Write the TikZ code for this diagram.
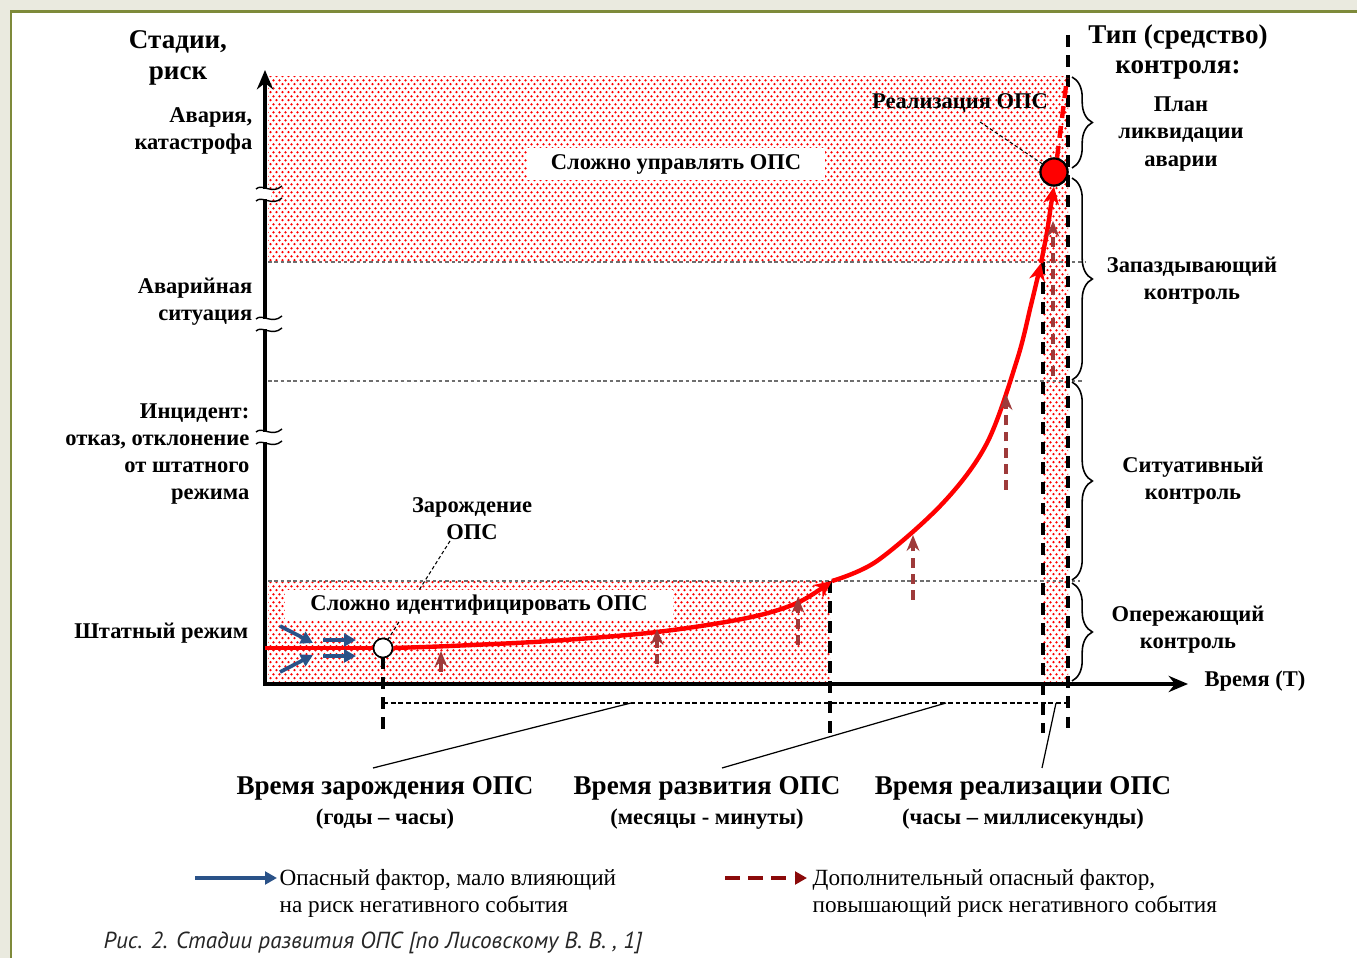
\documentclass[tikz,border=0pt]{standalone}
\usepackage{fontspec}
\setmainfont{Liberation Serif}
\newfontfamily\capfont{PT Sans}
\usetikzlibrary{arrows.meta,decorations.pathreplacing,calc,patterns}
\definecolor{bgbeige}{HTML}{EAEADF}
\definecolor{olivec}{HTML}{7E8A3A}
\definecolor{fblue}{HTML}{2A5288}
\definecolor{fred}{HTML}{9E3A3A}
\definecolor{lred}{HTML}{8B0A0A}
\definecolor{gline}{HTML}{6E6E6E}
\pgfdeclarepatternformonly{rdots}{\pgfqpoint{0pt}{0pt}}{\pgfqpoint{1.7pt}{2.2pt}}{\pgfqpoint{1.7pt}{2.2pt}}{%
  \pgfpathcircle{\pgfqpoint{0.425pt}{0.55pt}}{0.38pt}%
  \pgfpathcircle{\pgfqpoint{1.275pt}{1.65pt}}{0.38pt}%
  \pgfusepath{fill}}
\newcommand\fbig{\fontsize{7.7}{8.8}\selectfont\bfseries}
\newcommand\fmid{\fontsize{6.4}{7.7}\selectfont\bfseries}
\newcommand\fbot{\fontsize{7.7}{8.3}\selectfont\bfseries}
\newcommand\fleg{\fontsize{6.6}{7.7}\selectfont}
\newcommand\fcap{\capfont\itshape\fontsize{6.6}{7}\selectfont}
\tikzset{
  lab/.style={font=\fmid, align=center, inner sep=0pt},
  labr/.style={font=\fmid, align=right, inner sep=0pt, anchor=east},
  big/.style={font=\fbig, align=center, inner sep=0pt},
  bot/.style={font=\fbot, align=center, inner sep=0pt},
  legt/.style={font=\fleg, align=left, inner sep=0pt, anchor=west},
  patt/.style={pattern=rdots, pattern color=red},
  gdash/.style={draw=gline, line width=0.35pt, dash pattern=on 1pt off 0.8pt},
  vdash/.style={draw=black, line width=0.9pt, dash pattern=on 3.4pt off 2.3pt},
  hdash/.style={draw=black, line width=0.35pt, dash pattern=on 1.4pt off 0.8pt},
  leader/.style={draw=black, line width=0.35pt},
  dleader/.style={draw=black, line width=0.3pt, dash pattern=on 1pt off 0.7pt},
  curve/.style={draw=red, line width=1.25pt, -{Stealth[length=5pt,width=4.5pt]}},
  farrow/.style={draw=fred, line width=1.1pt, dash pattern=on 2.8pt off 1.8pt, -{Stealth[length=4.5pt,width=3.6pt]}},
  larrow/.style={draw=lred, line width=1.15pt, dash pattern=on 4.2pt off 2.4pt, -{Triangle[length=3.4pt,width=3.6pt]}},
  barrow/.style={draw=fblue, line width=1.05pt, -{Triangle[length=3.4pt,width=3.6pt]}},
  axis/.style={draw=black, line width=1.2pt, -{Stealth[length=5.5pt,width=4.6pt]}},
  brc/.style={decorate, decoration={brace, amplitude=5.8pt}, draw=black, line width=0.45pt},
  wave/.style={draw=black, line width=0.4pt},
  lbox/.style={fill=white, font=\fmid, inner sep=0pt},
}
\begin{document}
\begin{tikzpicture}[x=0.01cm, y=-0.01cm]
\useasboundingbox (0,0) rectangle (1357,958);
% frame
\fill[bgbeige] (0,0) rectangle (1357,958);
\fill[white] (11,12) rectangle (1357,958);
\draw[olivec, line width=0.85pt] (11,958) -- (11,12) -- (1357,12);
% shaded regions
\fill[patt] (268,77) rectangle (1068,262);
\fill[patt] (268,581) rectangle (830,684);
\fill[patt] (1043,262) rectangle (1068,684);
% level lines
\draw[gdash] (268,262) -- (1086,262);
\draw[gdash] (268,381) -- (1084,381);
\draw[gdash] (268,581) -- (1080,581);
% time marks
\coordinate (m0a) at (383,657); \coordinate (m0b) at (383,732);
\coordinate (m1a) at (830,581); \coordinate (m1b) at (830,733);
\coordinate (m2a) at (1043,262); \coordinate (m2b) at (1043,733);
\coordinate (m3a) at (1068,35); \coordinate (m3b) at (1068,733);
\draw[vdash] (m0a) -- (m0b);
\draw[vdash] (m1a) -- (m1b);
\draw[vdash] (m2a) -- (m2b);
\draw[vdash] (m3a) -- (m3b);
\coordinate (h0) at (383,703); \coordinate (h1) at (1068,703);
\draw[hdash] (h0) -- (h1);
% axes
\coordinate (o) at (265,684);
\coordinate (ytop) at (265,70);
\coordinate (xend) at (1188,684);
\draw[axis] (265,686) -- (ytop);
\draw[axis] (263,684) -- (xend);
% axis breaks
\foreach \c in {194,324,437}{
  \fill[white] (259,\c-5) rectangle (271,\c+5);
  \draw[wave] (256,\c-5) .. controls (262,\c-11) and (272,\c+1) .. (282,\c-8);
  \draw[wave] (256,\c+7) .. controls (262,\c+1) and (272,\c+13) .. (282,\c+4);
}
% bottom labels
\node[bot] (t1) at (385,803) {Время зарождения ОПС\\{\fmid (годы – часы)}};
\node[bot] (t2) at (707,803) {Время развития ОПС\\{\fmid (месяцы - минуты)}};
\node[bot] (t3) at (1023,803) {Время реализации ОПС\\{\fmid (часы – миллисекунды)}};
\coordinate (q1a) at (631,703); \coordinate (q1b) at (373,768);
\coordinate (q2a) at (946,703); \coordinate (q2b) at (722,768);
\coordinate (q3a) at (1056,703); \coordinate (q3b) at (1042,768);
\draw[leader] (q1a) -- (q1b);
\draw[leader] (q2a) -- (q2b);
\draw[leader] (q3a) -- (q3b);
% circles
\node[circle, draw=black, line width=0.45pt, fill=white, minimum size=0.19cm, inner sep=0pt] (zo) at (383,648) {};
\node[circle, draw=black, line width=0.6pt, fill=red, minimum size=0.27cm, inner sep=0pt] (re) at (1054,172) {};
% leader for origin
\node[lab] (zl) at (472,519) {Зарождение\\ОПС};
\coordinate (zla) at (450,541);
\draw[dleader] (zla) -- (zo.60);
% label boxes
\node[lbox, minimum width=2.98cm, minimum height=0.32cm] (hard1) at (676,164) {Сложно управлять ОПС};
\node[lbox, minimum width=3.88cm, minimum height=0.29cm] (hard2) at (479,605) {Сложно идентифицировать ОПС};
% realisation label
\node[lab] (rl) at (960,103) {Реализация ОПС};
\coordinate (rla) at (980,122);
\draw[dleader] (rla) -- (re.145);
% red curve
\coordinate (st) at (265,648);
\draw[red, line width=1.25pt] (st) -- (zo.west);
\draw[curve] plot[smooth, tension=0.55] coordinates {(zo.east) (450,646) (550,641) (657,632) (747,618) (797,603) (832,581)};
\draw[curve] plot[smooth, tension=0.55] coordinates {(832,581) (877,561) (943,503) (987,443) (1017,360) (1031,305) (1041,263)};
\draw[curve] plot[smooth, tension=0.55] coordinates {(1041,263) (1047,232) (1051,205) (re.south)};
\coordinate (rtop) at (1067,78);
\draw[red, line width=1.25pt, dash pattern=on 3.4pt off 2.3pt] (re.78) -- (rtop);
\node[circle, draw=black, line width=0.45pt, fill=white, minimum size=0.19cm, inner sep=0pt] at (zo) {};
\node[circle, draw=black, line width=0.6pt, fill=red, minimum size=0.27cm, inner sep=0pt] at (re) {};
% additional factors
\draw[farrow] (441,672) -- (441,651);
\draw[farrow] (657,664) -- (657,629);
\draw[farrow] (798,645) -- (798,597);
\draw[farrow] (913,600) -- (913,535);
\draw[farrow] (1006,490) -- (1006,394);
\draw[farrow] (1053,376) -- (1053,221);
% weak factors
\draw[barrow] (280,626) -- (313,643);
\draw[barrow] (280,672) -- (313,655);
\draw[barrow] (323,640) -- (356,640);
\draw[barrow] (323,656) -- (356,656);
% braces
\draw[brc] (1072,77) -- (1072,168);
\draw[brc] (1072,178) -- (1072,380);
\draw[brc] (1072,382) -- (1072,580);
\draw[brc] (1072,583) -- (1072,681);
% titles
\node[big] (ty) at (178,58) {Стадии,\\риск};
\node[big] (tc) at (1178,52) {Тип (средство)\\контроля:};
% stage labels
\node[labr] (s1) at (253,131) {Авария,\\катастрофа};
\node[labr] (s2) at (253,302) {Аварийная\\ситуация};
\node[labr] (s3) at (250,454) {Инцидент:\\отказ, отклонение\\от штатного\\режима};
\node[labr] (s4) at (249,633) {Штатный режим};
% control labels
\node[lab] (c1) at (1181,134) {План\\ликвидации\\аварии};
\node[lab] (c2) at (1192,281) {Запаздывающий\\контроль};
\node[lab] (c3) at (1193,481) {Ситуативный\\контроль};
\node[lab] (c4) at (1188,630) {Опережающий\\контроль};
\node[lab, anchor=west] (tx) at (1204,681) {Время (Т)};
% legend
\coordinate (lb0) at (195,878); \coordinate (lb1) at (277,878);
\draw[barrow] (lb0) -- (lb1);
\node[legt] (lt1) at (279,893) {Опасный фактор, мало влияющий\\на риск негативного события};
\coordinate (lr0) at (725,878); \coordinate (lr1) at (807,878);
\draw[larrow] (lr0) -- (lr1);
\node[legt] (lt2) at (812,893) {Дополнительный опасный фактор,\\повышающий риск негативного события};
% caption
\node[font=\fcap, anchor=west, inner sep=0pt, text=black!85] (cap) at (103,943) {Рис. 2. Стадии развития ОПС [по Лисовскому В. В. , 1]};
\end{tikzpicture}
\end{document}
